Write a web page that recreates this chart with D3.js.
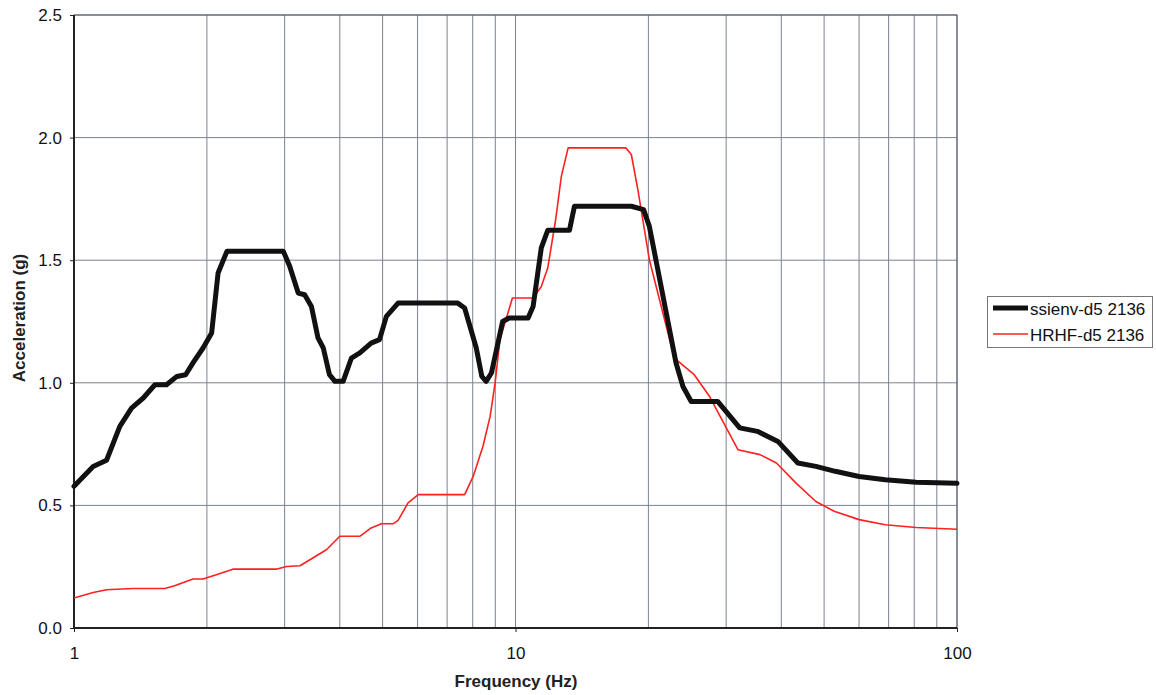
<!DOCTYPE html>
<html><head><meta charset="utf-8">
<script src="https://cdn.jsdelivr.net/npm/d3@7"></script>
<style>
body{margin:0;background:#fff;}
svg{display:block;font-family:"Liberation Sans",Arial,sans-serif;}
</style></head><body>
<svg id="chart" width="1156" height="695"></svg>
<script>
const ssienvFreq = [1.0,1.105,1.185,1.27,1.35,1.435,1.525,1.62,1.71,1.79,1.86,1.96,2.05,2.12,2.22,2.98,3.08,3.22,3.33,3.45,3.57,3.67,3.79,3.90,4.07,4.25,4.44,4.71,4.92,5.10,5.42,7.40,7.67,8.15,8.39,8.58,8.82,9.35,9.67,10.68,10.96,11.44,11.83,13.25,13.6,18.3,19.5,20.1,23.1,23.95,25.0,28.7,32.2,35.3,39.3,43.6,47.9,53.0,60.0,68.8,80.8,100];
const ssienvAcc = [0.578,0.659,0.684,0.822,0.897,0.938,0.992,0.992,1.026,1.033,1.081,1.142,1.203,1.448,1.536,1.536,1.475,1.366,1.359,1.311,1.183,1.142,1.033,1.006,1.006,1.101,1.122,1.162,1.176,1.271,1.325,1.325,1.305,1.142,1.026,1.006,1.04,1.25,1.264,1.264,1.311,1.55,1.622,1.622,1.72,1.72,1.706,1.638,1.081,0.985,0.924,0.924,0.816,0.802,0.761,0.673,0.659,0.639,0.618,0.605,0.594,0.590];
const hrhfFreq = [1.0,1.105,1.185,1.36,1.605,1.69,1.86,1.96,2.10,2.29,2.87,3.03,3.25,3.73,4.0,4.44,4.71,4.97,5.28,5.42,5.71,6.02,7.67,8.02,8.44,8.76,8.99,9.22,9.84,10.96,11.44,11.83,12.33,12.7,13.16,17.8,18.3,18.93,20.1,22.9,25.4,27.5,31.9,35.8,39.0,43.2,47.9,52.7,60.0,68.8,80.8,100];
const hrhfAcc = [0.122,0.145,0.156,0.161,0.161,0.172,0.2,0.2,0.217,0.24,0.24,0.251,0.254,0.319,0.374,0.374,0.408,0.425,0.425,0.439,0.51,0.544,0.544,0.618,0.741,0.863,0.999,1.176,1.346,1.346,1.393,1.468,1.665,1.842,1.958,1.958,1.93,1.788,1.502,1.101,1.033,0.945,0.727,0.707,0.673,0.591,0.516,0.476,0.442,0.421,0.410,0.403];
const seriesNames = ["ssienv-d5 2136","HRHF-d5 2136"];
const yTicks = [0,0.5,1.0,1.5,2.0,2.5];
const xTickLabels = [1,10,100];
const xTitle = "Frequency (Hz)";
const yTitle = "Acceleration (g)";

const svg = d3.select("#chart");
const L=74, R=957, T=15, B=628;
const x = d3.scaleLog().domain([1,100]).range([L,R]);
const y = d3.scaleLinear().domain([0,2.5]).range([B,T]);

// grid
const minor = [];
for (let d of [1,10]) for (let k=1;k<=10;k++) minor.push(d*k);
const uniq = Array.from(new Set(minor));
svg.append("g").selectAll("line").data(uniq).join("line")
  .attr("x1",d=>x(d)).attr("x2",d=>x(d)).attr("y1",T).attr("y2",B)
  .attr("stroke","#7c8294").attr("stroke-width",1);
svg.append("g").selectAll("line").data(yTicks).join("line")
  .attr("x1",L).attr("x2",R).attr("y1",d=>y(d)).attr("y2",d=>y(d))
  .attr("stroke","#7c8294").attr("stroke-width",1);

// border
svg.append("rect").attr("x",L).attr("y",T).attr("width",R-L).attr("height",B-T)
  .attr("fill","none").attr("stroke","#555a66").attr("stroke-width",1);
svg.append("line").attr("x1",L).attr("x2",L).attr("y1",T).attr("y2",B).attr("stroke","#222").attr("stroke-width",2);
svg.append("line").attr("x1",L).attr("x2",R).attr("y1",B).attr("y2",B).attr("stroke","#222").attr("stroke-width",2);

// axes
const yAxis = d3.axisLeft(y).tickValues(yTicks).tickFormat(d3.format(".1f")).tickSize(4).tickPadding(8);
const gy = svg.append("g").attr("transform",`translate(${L},0)`).call(yAxis);
gy.select(".domain").remove();
gy.selectAll("text").attr("font-size",17).attr("fill","#111").attr("font-family","'Liberation Sans',Arial,sans-serif");
gy.selectAll("line").attr("stroke","#222");

const xAxis = d3.axisBottom(x).tickValues(xTickLabels).tickFormat(d3.format("d")).tickSize(4).tickPadding(15);
const gx = svg.append("g").attr("transform",`translate(0,${B})`).call(xAxis);
gx.select(".domain").remove();
gx.selectAll("line").attr("stroke","#222");
gx.selectAll("text").attr("font-size",17).attr("fill","#111").attr("font-family","'Liberation Sans',Arial,sans-serif");

// titles
svg.append("text").attr("x",516).attr("y",687).attr("text-anchor","middle")
  .attr("font-weight","bold").attr("font-size",17).attr("fill","#222").text(xTitle);
svg.append("text").attr("transform",`translate(25,318) rotate(-90)`).attr("text-anchor","middle")
  .attr("font-weight","bold").attr("font-size",17).attr("fill","#222").text(yTitle);

// lines
const line = d3.line().x(d=>x(d[0])).y(d=>y(d[1]));
const hrhf = hrhfFreq.map((f,i)=>[f,hrhfAcc[i]]);
const ssienv = ssienvFreq.map((f,i)=>[f,ssienvAcc[i]]);
svg.append("path").datum(hrhf).attr("d",line).attr("fill","none").attr("stroke","#ff2020").attr("stroke-width",1.6).attr("stroke-linejoin","round");
svg.append("path").datum(ssienv).attr("d",line).attr("fill","none").attr("stroke","#111").attr("stroke-width",5).attr("stroke-linejoin","round").attr("stroke-linecap","round");

// legend
const lg = svg.append("g");
lg.append("rect").attr("x",987.5).attr("y",296.5).attr("width",165).attr("height",51)
  .attr("fill","#fff").attr("stroke","#777").attr("stroke-width",1);
const styles=[{c:"#111",w:5},{c:"#ff2020",w:1.6}];
seriesNames.forEach((n,i)=>{
  const yy = 308 + i*26;
  lg.append("line").attr("x1",993).attr("x2",1028).attr("y1",yy).attr("y2",yy).attr("stroke",styles[i].c).attr("stroke-width",styles[i].w);
  lg.append("text").attr("x",1030).attr("y",yy+7).attr("font-size",17).attr("fill","#111").text(n);
});
</script></body></html>
